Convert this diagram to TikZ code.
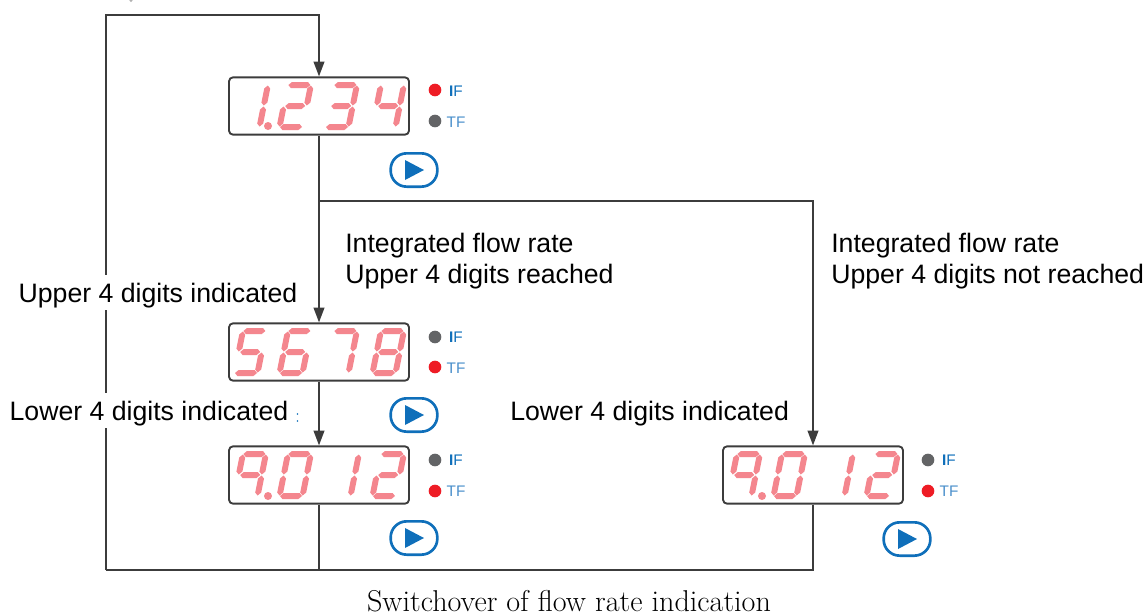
\documentclass[tikz,border=0pt]{standalone}
\usepackage{fontspec}
\newfontfamily\arialf{Liberation Sans}
\definecolor{linec}{HTML}{3C3C3C}
\definecolor{segc}{HTML}{F4868E}
\definecolor{ledred}{HTML}{EE1C25}
\definecolor{ledgrey}{HTML}{636466}
\definecolor{btnblue}{HTML}{0F6FBA}
\definecolor{tflabel}{HTML}{4A8FCB}
\usetikzlibrary{arrows.meta}
\tikzset{
  x=0.75pt,y=-0.75pt,
  conn/.style={draw=linec,line width=1.2pt},
  arr/.style={conn,-{Triangle[length=11pt,width=8pt]}},
  dispbox/.style={draw=linec,line width=1.4pt,rounded corners=3pt,minimum width=135pt,minimum height=43pt,inner sep=0pt,fill=white},
  lab/.style={font=\arialf\fontsize{20}{23.4}\selectfont,text=black,inner sep=0pt,align=left},
  masklab/.style={font=\arialf\fontsize{20}{23.4}\selectfont,text=black,fill=white,inner xsep=1pt,inner ysep=0pt,text height=20pt,text depth=6pt},
  ledon/.style={circle,fill=ledred,minimum size=9.5pt,inner sep=0pt},
  ledoff/.style={circle,fill=ledgrey,minimum size=9.5pt,inner sep=0pt},
  iflab/.style={font=\arialf\fontsize{11.5}{12}\selectfont,text=btnblue,inner sep=0pt},
  tflab/.style={font=\arialf\fontsize{11.5}{12}\selectfont,text=tflabel,inner sep=0pt},
  playbtn/.style={draw=btnblue,line width=2pt,rounded corners=12pt,minimum width=35pt,minimum height=25pt,inner sep=0pt},
}
\newcommand\hseg[3]{\fill[segc] (#1,#3) -- (#1+3,#3-3) -- (#2-3,#3-3) -- (#2,#3) -- (#2-3,#3+3) -- (#1+3,#3+3) -- cycle;}
\newcommand\vseg[3]{\fill[segc] (#1,#2) -- (#1+3,#2+3) -- (#1+3,#3-3) -- (#1,#3) -- (#1-3,#3-3) -- (#1-3,#2+3) -- cycle;}
\newcommand\dsegA{\hseg{3}{25}{3}}
\newcommand\dsegB{\vseg{25.5}{3.5}{23.5}}
\newcommand\dsegC{\vseg{25.5}{24.5}{44.5}}
\newcommand\dsegD{\hseg{3}{25}{45}}
\newcommand\dsegE{\vseg{2.5}{24.5}{44.5}}
\newcommand\dsegF{\vseg{2.5}{3.5}{23.5}}
\newcommand\dsegG{\hseg{4}{24}{24}}
% #1 = left x of the top edge, #2 = top y, #3 = segments
\newcommand\sevenseg[3]{\begin{scope}[shift={(#1,#2)},xslant=0.2]
  \foreach \s in {#3}{\csname dseg\s\endcsname}
\end{scope}}
\begin{document}
\begin{tikzpicture}
\useasboundingbox (0,0) rectangle (1146,615);
% display boxes
\node[dispbox] (d1) at (319,106) {};
\node[dispbox] (d2) at (319,352) {};
\node[dispbox] (d3) at (319,475) {};
\node[dispbox] (d4) at (813,475) {};
% connector coordinates
\coordinate (topl) at (106,15);
\coordinate (topm) at (d1.north |- topl);
\coordinate (botl) at (106,570);
\coordinate (botr) at (d4.south |- botl);
\coordinate (botm) at (d3.south |- botl);
\coordinate (brl) at (319,201);
\coordinate (brr) at (d4.north |- brl);
% connectors
\draw[arr] (botl) -- (topl) -- (topm) -- (d1.north);
\draw[conn] (d4.south) -- (botr) -- (botl);
\draw[conn] (d3.south) -- (botm);
\draw[arr] (d1.south) -- (d2.north);
\draw[arr] (brl) -- (brr) -- (d4.north);
\draw[arr] (d2.south) -- (d3.north);
% digits: 1.234
\sevenseg{243}{82}{B,C}
\fill[segc] (268,126) circle (3pt);
\sevenseg{286}{82}{A,B,G,E,D}
\sevenseg{332}{82}{A,B,G,C,D}
\sevenseg{379}{82}{F,G,B,C}
% 5678
\sevenseg{241}{328}{A,F,G,C,D}
\sevenseg{286}{328}{A,F,G,E,C,D}
\sevenseg{332}{328}{A,B,C}
\sevenseg{379}{328}{A,B,C,D,E,F,G}
% 9.012
\foreach \dx in {0,494}{
  \sevenseg{241+\dx}{451}{A,B,C,F,G}
  \fill[segc] (268+\dx,496) circle (3pt);
  \sevenseg{286+\dx}{451}{A,B,C,D,E,F}
  \sevenseg{334+\dx}{451}{B,C}
  \sevenseg{379+\dx}{451}{A,B,G,E,D}
}
% LEDs
\node[ledon] (l1a) at (435,90) {};
\node[ledoff] (l1b) at (435,121) {};
\node[ledoff] (l2a) at (435,337) {};
\node[ledon] (l2b) at (435,367) {};
\node[ledoff] (l3a) at (435,460) {};
\node[ledon] (l3b) at (435,491) {};
\node[ledoff] (l4a) at (928,460) {};
\node[ledon] (l4b) at (928,491) {};
\foreach \nm/\xx/\yi/\yt in {a/456/91/122,b/456/337/368,c/456/460/491,e/949/460/491}{
  \node[iflab] (if\nm) at (\xx,\yi) {{\bfseries I}F};
  \node[tflab] (tf\nm) at (\xx,\yt) {TF};
}
% play buttons
\foreach \nm/\xx/\yy in {p1/414/170,p2/414/415,p3/414/538,p4/907/539}{
  \node[playbtn] (\nm) at (\xx,\yy) {};
  \fill[btnblue] (\xx-9,\yy-10) -- (\xx+10,\yy) -- (\xx-9,\yy+10) -- cycle;
}
% labels
\node[masklab,anchor=base west] (u4) at (17,302) {Upper 4 digits indicated};
\node[masklab,anchor=base west] (l4) at (8,420) {Lower 4 digits indicated};
\node[lab,anchor=base west] (l4r) at (510,420) {Lower 4 digits indicated};
\node[lab,anchor=north west] (r1) at (345,233) {Integrated flow rate\\[0pt]Upper 4 digits reached};
\node[lab,anchor=north west] (r2) at (831,233) {Integrated flow rate\\[0pt]Upper 4 digits not reached};
\node[font=\fontsize{22.6}{26}\selectfont,inner sep=0pt] (cap) at (569,601) {Switchover of flow rate indication};
% small marks printed in the reference
\fill[btnblue] (297.5,414) circle (0.7pt) (297.5,421) circle (0.7pt);
\fill[gray!60] (131,0.5) circle (1.2pt);
\end{tikzpicture}
\end{document}
